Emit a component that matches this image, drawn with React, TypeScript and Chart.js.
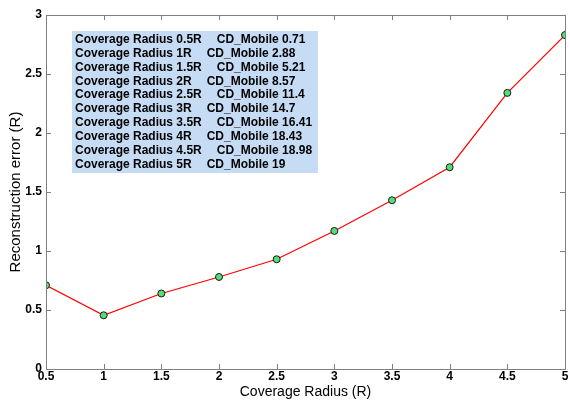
import React, { useEffect, useRef } from "react";
import { Chart, registerables } from "chart.js";

Chart.register(...registerables);

const radii = [0.5, 1, 1.5, 2, 2.5, 3, 3.5, 4, 4.5, 5];
const errors = [0.71, 0.455, 0.64, 0.78, 0.93, 1.17, 1.43, 1.71, 2.34, 2.83];
const legendRadius = ["0.5R", "1R", "1.5R", "2R", "2.5R", "3R", "3.5R", "4R", "4.5R", "5R"];
const legendMobile = ["0.71", "2.88", "5.21", "8.57", "11.4", "14.7", "16.41", "18.43", "18.98", "19"];
const xTitle = "Coverage Radius (R)";
const yTitle = "Reconstruction error (R)";

const FONT = "Arial, 'Liberation Sans', sans-serif";

const fmt = (v: number) => String(Number(v.toFixed(2)));

const boxPlugin = {
  id: "boxPlugin",
  afterDatasetsDraw(chart: any) {
    const { ctx } = chart;
    ctx.save();
    ctx.fillStyle = "#c6dcf5";
    ctx.fillRect(72, 31, 246, 142);
    ctx.fillStyle = "#000";
    ctx.font = `bold 12px ${FONT}`;
    ctx.textBaseline = "middle";
    for (let i = 0; i < legendRadius.length; i++) {
      const y = 39.5 + i * 13.9;
      const s1 = "Coverage Radius " + legendRadius[i];
      ctx.fillText(s1, 75, y);
      const w = ctx.measureText(s1).width;
      ctx.fillText("CD_Mobile " + legendMobile[i], 75 + w + 15, y);
    }
    ctx.restore();
  },
  afterDraw(chart: any) {
    const { ctx, chartArea: a, scales } = chart;
    const xs = scales.x;
    const ys = scales.y;
    ctx.save();
    ctx.strokeStyle = "#7f7f7f";
    ctx.lineWidth = 1;
    ctx.beginPath();
    ctx.rect(Math.round(a.left) + 0.5, Math.round(a.top) + 0.5, Math.round(a.right - a.left), Math.round(a.bottom - a.top));
    ctx.stroke();
    const tl = 5;
    ctx.beginPath();
    xs.ticks.forEach((t: any) => {
      const px = Math.round(xs.getPixelForValue(t.value)) + 0.5;
      ctx.moveTo(px, a.bottom);
      ctx.lineTo(px, a.bottom - tl);
      ctx.moveTo(px, a.top);
      ctx.lineTo(px, a.top + tl);
    });
    ys.ticks.forEach((t: any) => {
      const py = Math.round(ys.getPixelForValue(t.value)) + 0.5;
      ctx.moveTo(a.left, py);
      ctx.lineTo(a.left + tl, py);
      ctx.moveTo(a.right, py);
      ctx.lineTo(a.right - tl, py);
    });
    ctx.stroke();
    ctx.restore();
  },
};

export default function App() {
  const ref = useRef<HTMLCanvasElement>(null);
  useEffect(() => {
    const chart = new Chart(ref.current!, {
      type: "line",
      data: {
        datasets: [
          {
            data: radii.map((x, i) => ({ x, y: errors[i] })),
            borderColor: "#ff0000",
            borderWidth: 1.2,
            pointBackgroundColor: "#55dd77",
            pointBorderColor: "#1a1a1a",
            pointBorderWidth: 1,
            pointRadius: 3.5,
            tension: 0,
          },
        ],
      },
      options: {
        animation: false,
        responsive: false,
        layout: { padding: { top: 15, right: 2, left: 0, bottom: 0 } },
        plugins: { legend: { display: false }, tooltip: { enabled: false } },
        scales: {
          x: {
            type: "linear",
            min: 0.5,
            max: 5,
            grid: { display: false, drawTicks: false },
            border: { display: false },
            ticks: {
              stepSize: 0.5,
              color: "#000",
              font: { family: FONT, size: 12, weight: "bold" },
              padding: 0,
              maxRotation: 0,
              autoSkip: false,
              callback: (v: any) => fmt(Number(v)),
            },
            title: {
              display: true,
              text: xTitle,
              color: "#000",
              font: { family: FONT, size: 14 },
              padding: { top: 0, bottom: 0 },
            },
            afterFit(scale: any) {
              scale.height = 32;
              scale.paddingLeft = 0;
              scale.paddingRight = 0;
            },
          },
          y: {
            min: 0,
            max: 3,
            grid: { display: false, drawTicks: false },
            border: { display: false },
            ticks: {
              stepSize: 0.5,
              color: "#000",
              font: { family: FONT, size: 12, weight: "bold" },
              padding: 4,
              callback: (v: any) => fmt(Number(v)),
            },
            title: {
              display: true,
              text: yTitle,
              color: "#000",
              font: { family: FONT, size: 15 },
              padding: { top: 7, bottom: 0 },
            },
            afterFit(scale: any) {
              scale.width = 46;
              scale.paddingTop = 0;
              scale.paddingBottom = 0;
            },
          },
        },
      } as any,
      plugins: [boxPlugin],
    });
    return () => chart.destroy();
  }, []);
  return (
    <div style={{ position: "fixed", left: 0, top: 0, width: 570, height: 401, background: "#fff" }}>
      <canvas ref={ref} width={570} height={401} />
    </div>
  );
}
